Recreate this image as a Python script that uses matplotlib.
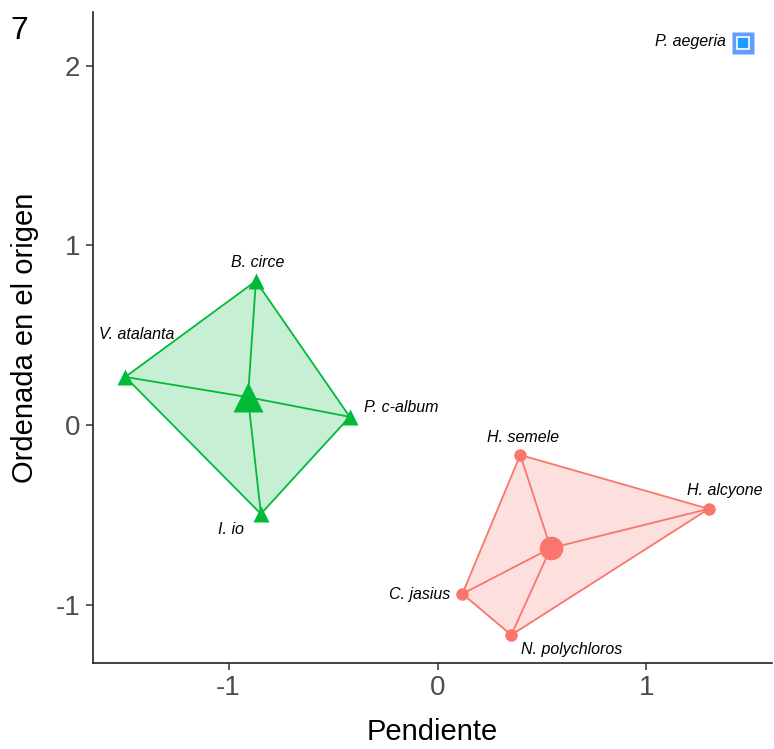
import numpy as np
import matplotlib
matplotlib.use("Agg")
import matplotlib.pyplot as plt

plt.rcParams['font.family'] = ['Liberation Sans', 'DejaVu Sans']

# Data
green_species = ["B. circe", "V. atalanta", "P. c-album", "I. io"]
green_x = [-0.869, -1.494, -0.420, -0.845]
green_y = [0.801, 0.267, 0.045, -0.495]

red_species = ["H. semele", "H. alcyone", "C. jasius", "N. polychloros"]
red_x = [0.396, 1.298, 0.119, 0.353]
red_y = [-0.167, -0.467, -0.940, -1.169]

blue_species = ["P. aegeria"]
blue_x = [1.461]
blue_y = [2.126]

x_ticks = [-1, 0, 1]
y_ticks = [-1, 0, 1, 2]

# label offsets in pixels (ha)
offsets = {
    "B. circe": (2, 18, "center"),
    "V. atalanta": (11, 42, "center"),
    "P. c-album": (14, 9, "left"),
    "I. io": (-30, -16, "center"),
    "H. semele": (3, 17, "center"),
    "H. alcyone": (16, 18, "center"),
    "C. jasius": (-12, -1, "right"),
    "N. polychloros": (60, -14, "center"),
    "P. aegeria": (-17, 1, "right"),
}

GREEN = "#00BA38"
RED = "#F8766D"
BLUE = "#619CFF"
LABEL_SIZE = 11.5

fig = plt.figure(figsize=(7.74, 7.49), dpi=100)
ax = fig.add_axes([0.120, 0.115, 0.877, 0.869])


def label(xs, ys, names):
    for x, y, n in zip(xs, ys, names):
        dx, dy, ha = offsets[n]
        ax.annotate(n, (x, y), xytext=(dx, dy), textcoords='offset pixels',
                    ha=ha, va='center', fontsize=LABEL_SIZE, style='italic',
                    color='black', zorder=4)


def draw_group(xs, ys, names, color, marker, ms, cms):
    xs = np.array(xs); ys = np.array(ys)
    cx, cy = xs.mean(), ys.mean()
    ang = np.arctan2(ys - cy, xs - cx)
    order = np.argsort(ang)
    ax.fill(xs[order], ys[order], facecolor=color, alpha=0.22, edgecolor='none', zorder=1)
    ax.plot(np.append(xs[order], xs[order][0]), np.append(ys[order], ys[order][0]),
            color=color, lw=1.3, zorder=2)
    for x, y in zip(xs, ys):
        ax.plot([cx, x], [cy, y], color=color, lw=1.3, zorder=2)
    ax.plot(xs, ys, linestyle='none', marker=marker, ms=ms, color=color, mec='none', zorder=3)
    ax.plot([cx], [cy], linestyle='none', marker=marker, ms=cms, color=color, mec='none', zorder=3)
    label(xs, ys, names)


draw_group(green_x, green_y, green_species, GREEN, '^', 11, 22)
draw_group(red_x, red_y, red_species, RED, 'o', 9, 17)

ax.plot(blue_x, blue_y, linestyle='none', marker='s', ms=16, color=BLUE, mec='none', zorder=3)
ax.plot(blue_x, blue_y, linestyle='none', marker='s', ms=8, color='#1E9BFF', mec='white', mew=1.2, zorder=4)
label(blue_x, blue_y, blue_species)

ax.set_xlim(-1.649, 1.599)
ax.set_ylim(-1.324, 2.298)
ax.set_xticks(x_ticks)
ax.set_yticks(y_ticks)
ax.set_xticklabels([str(t) for t in x_ticks])
ax.set_yticklabels([str(t) for t in y_ticks])
for s in ['top', 'right']:
    ax.spines[s].set_visible(False)
for s in ['left', 'bottom']:
    ax.spines[s].set_color('#222222')
    ax.spines[s].set_linewidth(1.2)
ax.tick_params(axis='both', colors='#333333', labelcolor='#4D4D4D', labelsize=20, length=5, width=1.1, pad=4)
ax.set_xlabel("Pendiente", fontsize=21, labelpad=12)
ax.set_ylabel("Ordenada en el origen", fontsize=21, labelpad=12)
fig.text(0.013, 0.978, "7", fontsize=23, ha='left', va='top')

fig.savefig("out.png", dpi=100)
